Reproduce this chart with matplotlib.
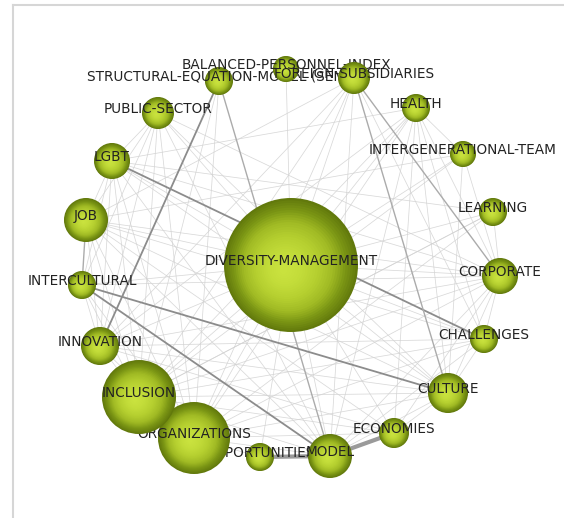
import numpy as np
import matplotlib
matplotlib.use('Agg')
import matplotlib.pyplot as plt
from matplotlib.patches import Circle
from matplotlib.colors import LinearSegmentedColormap

# node layout (pixel coordinates, y downwards)
labels = ['STRUCTURAL-EQUATION-MODEL (SEM)', 'BALANCED-PERSONNEL-INDEX', 'FOREIGN-SUBSIDIARIES',
          'HEALTH', 'PUBLIC-SECTOR', 'LGBT', 'JOB', 'INTERCULTURAL', 'INNOVATION',
          'OPPORTUNITIES', 'ORGANIZATIONS', 'INCLUSION', 'MODEL', 'ECONOMIES', 'CULTURE',
          'CHALLENGES', 'CORPORATE', 'LEARNING', 'INTERGENERATIONAL-TEAM', 'DIVERSITY-MANAGEMENT']
node_x = [219, 286, 354, 416, 158, 112, 86, 82, 100, 260, 194, 139, 330, 394, 448, 484, 500, 493, 463, 291]
node_y = [81, 69, 78, 108, 113, 161, 220, 285, 346, 457, 438, 397, 456, 433, 393, 339, 276, 212, 154, 265]
node_r = [14, 13, 16, 14, 16, 18, 22, 14, 19, 14, 36, 37, 22, 15, 20, 14, 18, 14, 13, 67]

# strong links: (from, to, strength 1..3)
strong_edges = [(5, 15, 2), (0, 8, 2), (0, 12, 1), (7, 14, 2), (7, 12, 2), (12, 13, 3),
                (9, 12, 3), (2, 16, 1), (2, 14, 1), (6, 7, 1)]
# weak links
weak_edges = [(1, 19), (5, 3),
              (19, 4), (19, 5), (19, 6), (19, 7), (19, 8), (19, 10), (19, 11), (19, 12),
              (19, 13), (19, 14), (19, 15), (19, 16), (19, 17), (19, 18), (19, 2), (19, 3), (19, 9),
              (4, 5), (4, 6), (4, 8), (4, 10), (4, 11), (4, 12), (4, 14), (4, 16), (4, 7),
              (5, 6), (5, 7), (5, 8), (5, 10), (5, 11), (5, 12), (5, 16), (5, 14), (5, 17),
              (6, 8), (6, 10), (6, 11), (6, 12), (6, 14), (6, 16), (6, 15), (6, 13), (6, 18),
              (7, 8), (7, 10), (7, 11), (7, 16),
              (8, 10), (8, 11), (8, 14), (8, 16), (8, 13), (8, 15),
              (11, 10), (11, 14), (11, 16), (11, 15), (11, 12), (11, 13), (11, 18), (11, 17),
              (10, 12), (10, 14), (10, 16), (10, 15), (10, 13), (10, 9), (10, 2),
              (12, 14), (12, 16), (12, 15), (12, 2), (12, 3),
              (13, 14), (13, 16), (13, 3),
              (14, 16), (14, 15), (14, 3), (14, 18),
              (15, 16), (15, 3), (15, 2),
              (16, 17), (16, 18), (16, 3),
              (3, 18), (3, 10), (3, 11), (3, 8),
              (2, 11), (2, 8), (2, 6),
              (0, 11), (0, 10), (17, 11), (17, 10)]

fig = plt.figure(figsize=(5.64, 5.18), dpi=100)
ax = fig.add_axes([0, 0, 1, 1])
ax.set_xlim(0, 564)
ax.set_ylim(518, 0)
ax.axis('off')

# frame lines
ax.plot([12.5, 12.5], [5, 518], color='#d6d6d6', lw=1.5, zorder=0)
ax.plot([12.5, 564], [5, 5], color='#d6d6d6', lw=1.5, zorder=0)

for a, b in weak_edges:
    ax.plot([node_x[a], node_x[b]], [node_y[a], node_y[b]], color='#d2d2d2', lw=0.55, alpha=0.85, zorder=1)

strong_style = {1: ('#ababab', 1.0), 2: ('#8c8c8c', 1.3), 3: ('#9a9a9a', 3.0)}
for a, b, s in strong_edges:
    c, w = strong_style[s]
    ax.plot([node_x[a], node_x[b]], [node_y[a], node_y[b]], color=c, lw=w, zorder=1.5,
            solid_capstyle='butt')

sphere = LinearSegmentedColormap.from_list('sphere', ['#c9e23e', '#b6d030', '#a0ba24', '#7a9514', '#62790c'])

n_rings = 30
for i in range(len(labels)):
    cx, cy, R = node_x[i], node_y[i], node_r[i]
    z = 2 + 2 * i
    for k in range(n_rings):
        s = k / n_rings
        rad = R * (1 - s)
        col = sphere((1 - s) ** 1.8)
        ax.add_patch(Circle((cx - 0.12 * R * s, cy + 0.08 * R * s), rad,
                            facecolor=col, edgecolor='none', zorder=z))
    ax.text(cx, cy - 4, labels[i], ha='center', va='center', fontsize=9.8,
            color='#222222', family='DejaVu Sans', zorder=z + 1)

fig.savefig('out.png', dpi=100)
